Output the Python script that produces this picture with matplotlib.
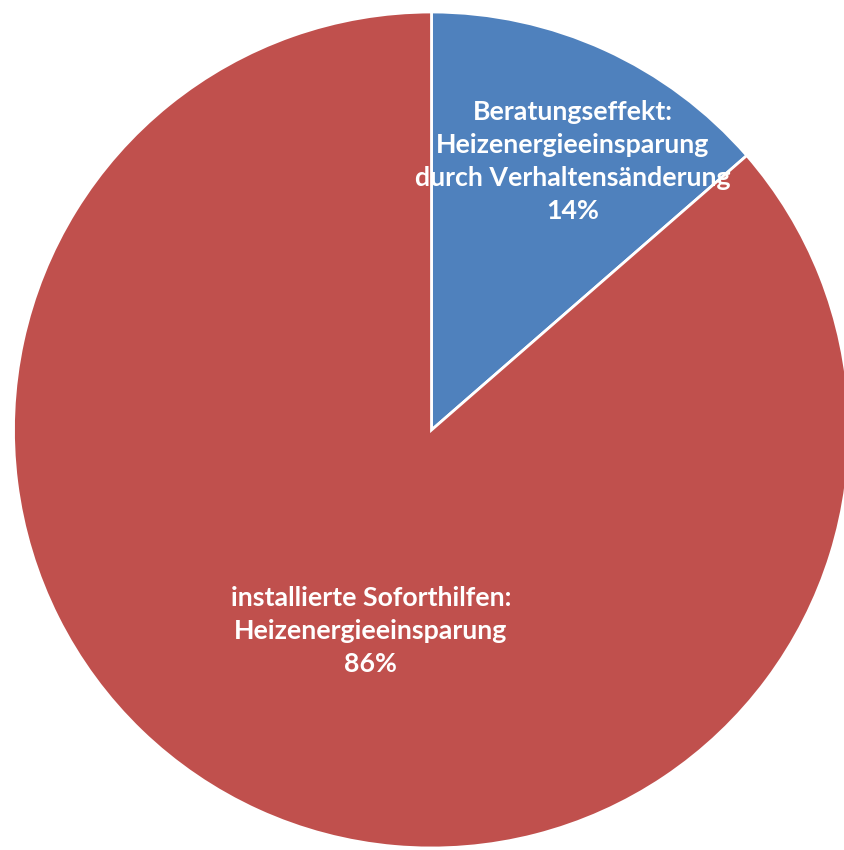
import matplotlib.pyplot as plt

categories = ["Beratungseffekt:\nHeizenergieeinsparung\ndurch Verhaltensänderung",
              "installierte Soforthilfen:\nHeizenergieeinsparung"]
shares = [13.6, 86.4]
colors = ["#4F81BD", "#C0504D"]

W, H = 844, 850
cx, cy, r = 431.5, 430, 418

fig = plt.figure(figsize=(W / 100, H / 100), dpi=100)
# axes box exactly around the pie circle (pixel coords)
ax = fig.add_axes([(cx - r) / W, (H - cy - r) / H, 2 * r / W, 2 * r / H])

wedges, _ = ax.pie(shares, colors=colors, startangle=90, counterclock=False,
                   radius=1, wedgeprops=dict(edgecolor="white", linewidth=2))
ax.set_xlim(-1, 1)
ax.set_ylim(-1, 1)
ax.axis("off")

# label positions (data coords)
label_pos = [(0.338, 0.642), (-0.145, -0.482)]
for cat, v, (x, y) in zip(categories, shares, label_pos):
    ax.text(x, y, f"{cat}\n{v:.0f}%", ha="center", va="center", color="white",
            fontsize=19.3, fontweight="bold", family=["Lato", "DejaVu Sans"],
            linespacing=1.45)

fig.savefig("out.png", dpi=100)
